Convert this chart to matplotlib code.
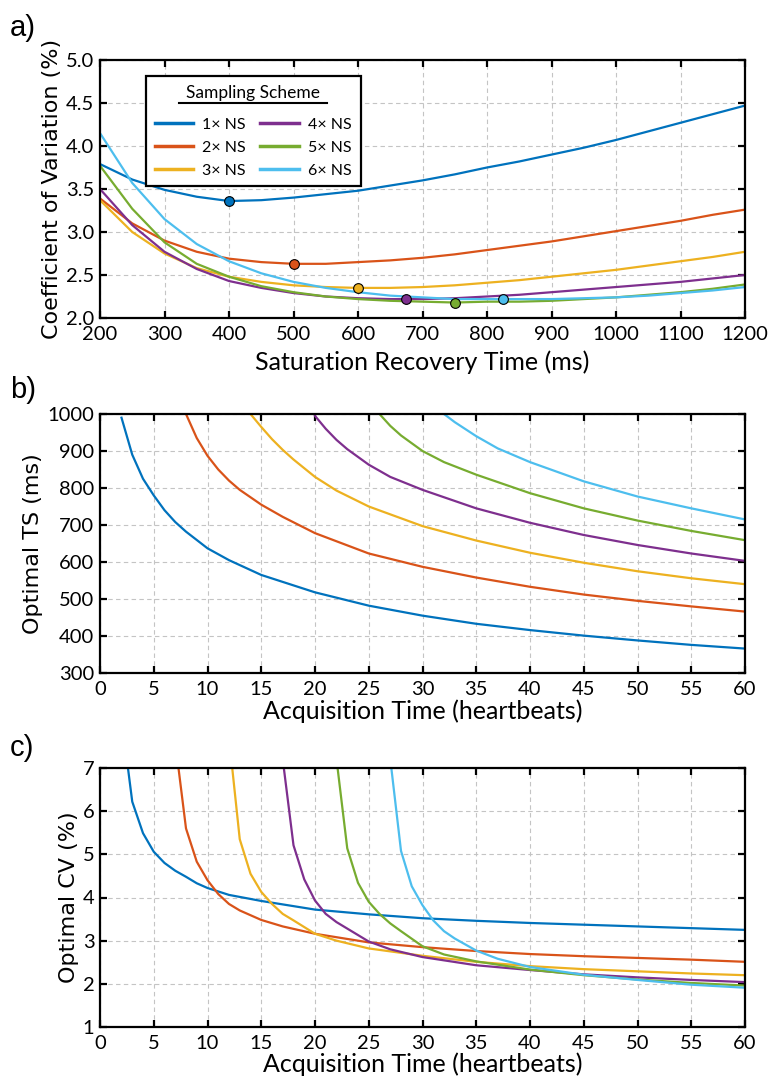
import matplotlib
matplotlib.use('Agg')
import matplotlib.pyplot as plt
from matplotlib.lines import Line2D

# Colours and labels of the six sampling schemes
scheme_labels = ['1× NS', '2× NS', '3× NS', '4× NS', '5× NS', '6× NS']
scheme_colors = ['#0072BD', '#D95319', '#EDB120', '#7E2F8E', '#77AC30', '#4DBEEE']

# Panel a) CV against saturation recovery time
ts_grid = [200, 250, 300, 350, 400, 450, 500, 550, 600, 650, 700, 750,
           800, 850, 900, 950, 1000, 1050, 1100, 1150, 1200]
cv_1ns = [3.79, 3.61, 3.49, 3.41, 3.36, 3.37, 3.40, 3.44, 3.48, 3.54, 3.60, 3.67,
          3.75, 3.82, 3.90, 3.98, 4.07, 4.17, 4.27, 4.37, 4.47]
cv_2ns = [3.39, 3.10, 2.90, 2.77, 2.69, 2.65, 2.63, 2.63, 2.65, 2.67, 2.70, 2.74,
          2.79, 2.84, 2.89, 2.95, 3.01, 3.07, 3.13, 3.20, 3.26]
cv_3ns = [3.37, 3.00, 2.75, 2.58, 2.48, 2.42, 2.38, 2.36, 2.35, 2.35, 2.36, 2.38,
          2.41, 2.44, 2.48, 2.52, 2.56, 2.61, 2.66, 2.71, 2.77]
cv_4ns = [3.50, 3.08, 2.77, 2.57, 2.43, 2.35, 2.29, 2.25, 2.23, 2.22, 2.22, 2.23,
          2.25, 2.27, 2.30, 2.33, 2.36, 2.39, 2.42, 2.46, 2.50]
cv_5ns = [3.77, 3.27, 2.88, 2.63, 2.48, 2.37, 2.30, 2.25, 2.22, 2.20, 2.19, 2.18,
          2.19, 2.19, 2.20, 2.22, 2.24, 2.27, 2.30, 2.34, 2.39]
cv_6ns = [4.15, 3.57, 3.15, 2.86, 2.66, 2.52, 2.42, 2.35, 2.30, 2.26, 2.24, 2.22,
          2.22, 2.22, 2.22, 2.23, 2.24, 2.26, 2.29, 2.32, 2.36]
ts_opt = [400, 500, 600, 675, 750, 825]
cv_opt = [3.36, 2.63, 2.35, 2.22, 2.18, 2.22]

# Panel b) optimal TS against acquisition time
hb_ts_1ns = [2, 3, 4, 5, 6, 7, 8, 10, 12, 15, 20, 25, 30, 35, 40, 45, 50, 55, 60]
ots_1ns = [990, 890, 825, 780, 740, 708, 682, 637, 605, 565, 518, 482, 455, 433, 416, 401, 388, 376, 366]
hb_ts_2ns = [8, 9, 10, 11, 12, 13, 15, 17, 20, 25, 30, 35, 40, 45, 50, 55, 60]
ots_2ns = [1000, 935, 887, 850, 820, 795, 755, 722, 678, 623, 587, 558, 533, 512, 495, 480, 466]
hb_ts_3ns = [14, 15, 16, 17, 18, 20, 22, 25, 30, 35, 40, 45, 50, 55, 60]
ots_3ns = [1000, 965, 932, 903, 877, 830, 793, 750, 697, 658, 625, 598, 575, 556, 540]
hb_ts_4ns = [20, 21, 22, 23, 25, 27, 30, 35, 40, 45, 50, 55, 60]
ots_4ns = [995, 960, 930, 905, 863, 830, 795, 745, 706, 673, 646, 623, 603]
hb_ts_5ns = [26, 27, 28, 30, 32, 35, 40, 45, 50, 55, 60]
ots_5ns = [1000, 968, 942, 900, 870, 836, 786, 745, 712, 684, 659]
hb_ts_6ns = [32, 33, 35, 37, 40, 45, 50, 55, 60]
ots_6ns = [1000, 978, 940, 907, 870, 818, 777, 745, 715]

# Panel c) optimal CV against acquisition time
hb_cv_1ns = [2.6, 3, 4, 5, 6, 7, 8, 9, 10, 12, 15, 20, 25, 30, 35, 40, 45, 50, 55, 60]
ocv_1ns = [7.0, 6.22, 5.49, 5.06, 4.80, 4.62, 4.48, 4.33, 4.22, 4.06, 3.92, 3.72, 3.61, 3.52,
           3.46, 3.41, 3.37, 3.33, 3.29, 3.25]
hb_cv_2ns = [7.3, 8, 9, 10, 11, 12, 13, 15, 17, 20, 25, 30, 35, 40, 45, 50, 55, 60]
ocv_2ns = [7.0, 5.6, 4.83, 4.40, 4.08, 3.85, 3.70, 3.48, 3.33, 3.16, 2.96, 2.85, 2.76, 2.69,
           2.64, 2.60, 2.56, 2.51]
hb_cv_3ns = [12.3, 13, 14, 15, 16, 17, 18, 20, 22, 25, 30, 35, 40, 45, 50, 55, 60]
ocv_3ns = [7.0, 5.35, 4.55, 4.13, 3.85, 3.62, 3.47, 3.16, 3.00, 2.82, 2.65, 2.51, 2.41, 2.34,
           2.29, 2.24, 2.20]
hb_cv_4ns = [17.1, 18, 19, 20, 21, 22, 23, 25, 27, 30, 35, 40, 45, 50, 55, 60]
ocv_4ns = [7.0, 5.21, 4.42, 3.93, 3.62, 3.43, 3.28, 2.98, 2.80, 2.62, 2.43, 2.32, 2.22, 2.15,
           2.09, 2.04]
hb_cv_5ns = [22.1, 23, 24, 25, 26, 27, 28, 30, 32, 35, 40, 45, 50, 55, 60]
ocv_5ns = [7.0, 5.14, 4.34, 3.90, 3.62, 3.40, 3.22, 2.87, 2.68, 2.52, 2.33, 2.20, 2.10, 2.02, 1.96]
hb_cv_6ns = [27.1, 28, 29, 30, 31, 32, 33, 35, 37, 40, 45, 50, 55, 60]
ocv_6ns = [7.0, 5.08, 4.26, 3.82, 3.47, 3.22, 3.05, 2.77, 2.58, 2.39, 2.21, 2.09, 1.98, 1.91]

TICK_FONT = 'Lato'
YLABEL_FONT = 'DejaVu Sans'


def style_axes(ax):
    """Boxed axes with inward ticks on every side and a dashed grid."""
    for spine in ax.spines.values():
        spine.set_linewidth(1.6)
    ax.tick_params(direction='in', top=True, right=True, length=5, width=1.6,
                   labelsize=14.5)
    ax.tick_params(axis='x', pad=6)
    ax.tick_params(axis='y', pad=4)
    for lab in ax.get_xticklabels() + ax.get_yticklabels():
        lab.set_family(TICK_FONT)
    ax.grid(True, color='#c4c4c4', linestyle=(0, (4, 3)), linewidth=0.8)
    ax.set_axisbelow(True)


fig = plt.figure(figsize=(7.69, 10.8), dpi=100)
left, width = 100 / 769, 645 / 769

# ---- a) ----
ax_a = fig.add_axes([left, 1 - 318 / 1080, width, 258 / 1080])
cv_series = [cv_1ns, cv_2ns, cv_3ns, cv_4ns, cv_5ns, cv_6ns]
for cv, col, lab in zip(cv_series, scheme_colors, scheme_labels):
    ax_a.plot(ts_grid, cv, color=col, lw=1.6, label=lab)
for t, c, col in zip(ts_opt, cv_opt, scheme_colors):
    ax_a.plot(t, c, 'o', color=col, markeredgecolor='black', markeredgewidth=0.8, markersize=7)
ax_a.set_xlim(200, 1200)
ax_a.set_ylim(2.0, 5.0)
ax_a.set_xticks(range(200, 1201, 100))
ax_a.set_yticks([2.0, 2.5, 3.0, 3.5, 4.0, 4.5, 5.0])
ax_a.set_yticklabels(['2.0', '2.5', '3.0', '3.5', '4.0', '4.5', '5.0'])
style_axes(ax_a)
ax_a.set_xlabel('Saturation Recovery Time (ms)', family=TICK_FONT, fontsize=18, labelpad=5)
ax_a.set_ylabel('Coefficient of Variation (%)', family=YLABEL_FONT, fontsize=16, labelpad=3)

leg = ax_a.legend(ncol=2, loc='upper left', bbox_to_anchor=(0.071, 0.938), borderaxespad=0,
                  title='Sampling Scheme', fancybox=False, framealpha=1, edgecolor='black',
                  prop={'family': TICK_FONT, 'size': 11.5}, handlelength=2.4, handletextpad=0.6,
                  columnspacing=0.9, labelspacing=0.55, borderpad=0.55)
leg.get_title().set_family(TICK_FONT)
leg.get_title().set_fontsize(12.5)
leg._legend_box.sep = 12
leg.get_frame().set_linewidth(1.6)
for h in leg.legend_handles:
    h.set_linewidth(2.5)

# ---- b) ----
ax_b = fig.add_axes([left, 1 - 673 / 1080, width, 259 / 1080])
ts_x = [hb_ts_1ns, hb_ts_2ns, hb_ts_3ns, hb_ts_4ns, hb_ts_5ns, hb_ts_6ns]
ts_y = [ots_1ns, ots_2ns, ots_3ns, ots_4ns, ots_5ns, ots_6ns]
for x, y, col in zip(ts_x, ts_y, scheme_colors):
    ax_b.plot(x, y, color=col, lw=1.6)
ax_b.set_xlim(0, 60)
ax_b.set_ylim(300, 1000)
ax_b.set_xticks(range(0, 61, 5))
ax_b.set_yticks(range(300, 1001, 100))
style_axes(ax_b)
ax_b.set_xlabel('Acquisition Time (heartbeats)', family=TICK_FONT, fontsize=18, labelpad=1)
ax_b.set_ylabel('Optimal TS (ms)', family=YLABEL_FONT, fontsize=16, labelpad=3)

# ---- c) ----
ax_c = fig.add_axes([left, 1 - 1027 / 1080, width, 259 / 1080])
cv_x = [hb_cv_1ns, hb_cv_2ns, hb_cv_3ns, hb_cv_4ns, hb_cv_5ns, hb_cv_6ns]
cv_y = [ocv_1ns, ocv_2ns, ocv_3ns, ocv_4ns, ocv_5ns, ocv_6ns]
for x, y, col in zip(cv_x, cv_y, scheme_colors):
    ax_c.plot(x, y, color=col, lw=1.6)
ax_c.set_xlim(0, 60)
ax_c.set_ylim(1, 7)
ax_c.set_xticks(range(0, 61, 5))
ax_c.set_yticks(range(1, 8))
style_axes(ax_c)
ax_c.set_xlabel('Acquisition Time (heartbeats)', family=TICK_FONT, fontsize=18, labelpad=0)
ax_c.set_ylabel('Optimal CV (%)', family=YLABEL_FONT, fontsize=16, labelpad=3)

# panel letters
for txt, ypix in [('a)', 28), ('b)', 390), ('c)', 748)]:
    fig.text(10 / 769, 1 - ypix / 1080, txt, family='Liberation Sans', fontsize=21,
             ha='left', va='center')

# underline the legend title
fig.canvas.draw()
tb = leg.get_title().get_window_extent()
y_line = tb.y0 - 2
fig.add_artist(Line2D([tb.x0 - 7, tb.x1 + 7], [y_line, y_line], color='black', lw=1.5,
                      transform=None))

fig.savefig('out.png', dpi=100)
